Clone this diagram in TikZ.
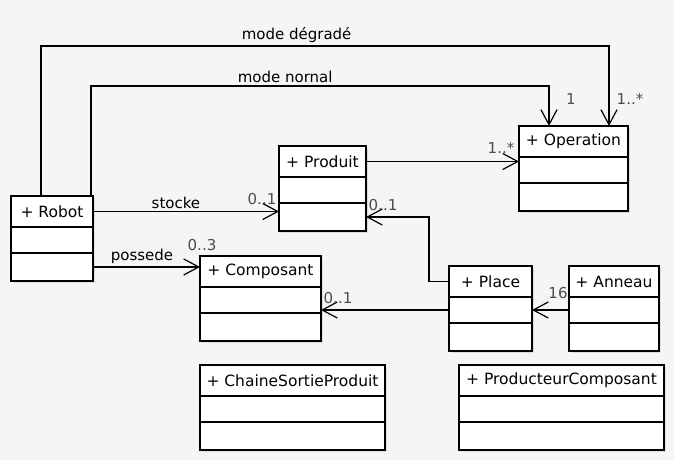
\documentclass[tikz,border=0pt]{standalone}
\usepackage{fontspec}
\setmainfont{DejaVu Sans}
\usetikzlibrary{positioning,calc,arrows.meta,shadows}

\definecolor{bgcolor}{RGB}{245,245,245}
\definecolor{multcolor}{RGB}{75,75,75}

\tikzset{
  classhead/.style={draw, fill=white, line width=1.2pt, outer sep=0pt, inner sep=0pt,
    minimum height=31pt, font=\fontsize{15.5}{18}\selectfont,
    drop shadow={shadow xshift=1.5pt, shadow yshift=-1.5pt, opacity=0.2}},
  classpart/.style={draw, fill=white, line width=1.2pt, outer sep=0pt, inner sep=0pt,
    drop shadow={shadow xshift=1.5pt, shadow yshift=-1.5pt, opacity=0.2}},
  assoc/.style={line width=1.2pt, -{Straight Barb[length=15pt,width=16pt,line width=1.2pt]}},
  assoclabel/.style={font=\fontsize{15}{18}\selectfont, inner sep=2.5pt},
  mult/.style={font=\fontsize{15}{18}\selectfont, text=multcolor, inner sep=0pt}
}

% name, top left corner, width, title
\newcommand{\umlclass}[4]{%
  \node[classhead, minimum width=#3, anchor=north west] (#1) at (#2) {#4};
  \node[classpart, minimum width=#3, minimum height=26pt, anchor=north] (#1-attr) at (#1.south) {};
  \node[classpart, minimum width=#3, minimum height=28pt, anchor=north] (#1-ops) at (#1-attr.south) {};
}

\begin{document}
\begin{tikzpicture}[x=1pt, y=-1pt]
    \fill[bgcolor] (0,0) rectangle (674,460);
    \useasboundingbox (0,0) rectangle (674,460);

    % classes
    \umlclass{robot}{11,196}{82pt}{+ Robot}
    \umlclass{produit}{279,146}{87pt}{+ Produit}
    \umlclass{operation}{519,126}{109pt}{+ Operation}
    \umlclass{composant}{200,256}{121pt}{+ Composant}
    \umlclass{place}{449,266}{83pt}{+ Place}
    \umlclass{anneau}{569,266}{90pt}{+ Anneau}
    \umlclass{chaine}{200,365}{185pt}{+ ChaineSortieProduit}
    \umlclass{producteur}{459,365}{205pt}{+ ProducteurComposant}

    % associations
    \draw[assoc] ([xshift=30pt]robot.north west) -- ++(0,-150)
        -| node[assoclabel, pos=0.225, above] (l-degrade) {mode dégradé}
        ([xshift=90pt]operation.north west);
    \draw[assoc] ([xshift=80pt]robot.north west) -- ++(0,-110)
        -| node[assoclabel, pos=0.212, above] (l-normal) {mode nornal}
        ([xshift=30pt]operation.north west);
    \draw[assoc] (produit.east) -- (produit.east -| operation.west);
    \draw[assoc] (robot.east) -- (robot.east -| produit.west)
        node[assoclabel, pos=0.446, above] (l-stocke) {stocke};
    \draw[assoc] (robot-ops.east) -- (robot-ops.east -| composant.west)
        node[assoclabel, pos=0.458, above] (l-possede) {possede};
    \draw[assoc] (place.west) -- ++(-20,0) |- (produit-ops.east);
    \draw[assoc] (place-attr.west) -- (place-attr.west -| composant.east);
    \draw[assoc] (anneau-attr.west) -- (place-attr.east);

    % multiplicities
    \node[mult] (m-degrade) at (630,99) {1..*};
    \node[mult] (m-normal) at (571,99) {1};
    \node[mult] (m-operation) at (501,148) {1..*};
    \node[mult] (m-stocke) at (262,199) {0..1};
    \node[mult] (m-possede) at (202,245) {0..3};
    \node[mult] (m-place) at (383,205) {0..1};
    \node[mult] (m-composant) at (338,298) {0..1};
    \node[mult] (m-anneau) at (558,293) {16};
\end{tikzpicture}
\end{document}
